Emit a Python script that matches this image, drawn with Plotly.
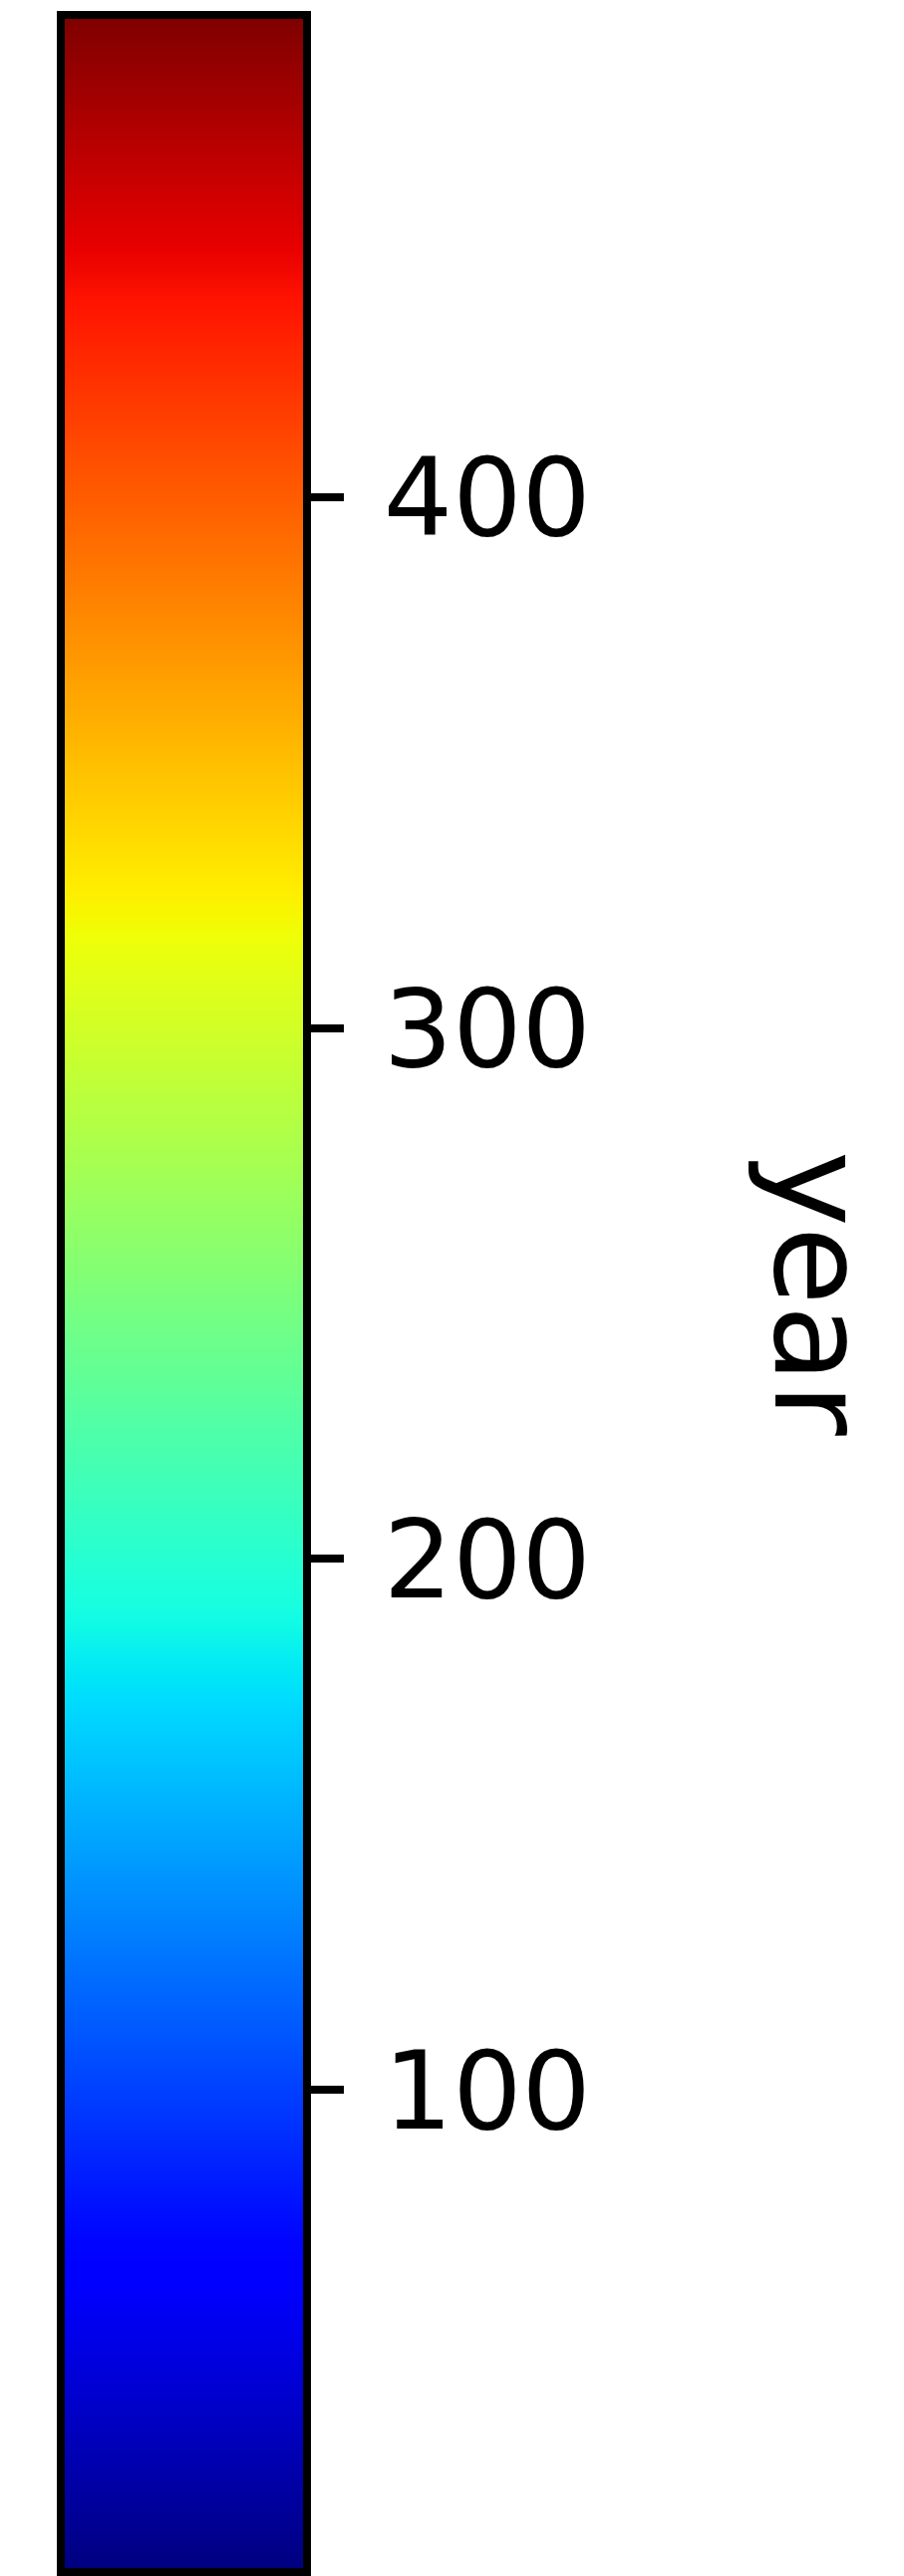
import plotly.graph_objects as go
import numpy as np

# Data
years = list(range(10, 491, 2))          # colour scale values (year)
tick_values = [100, 200, 300, 400]
tick_labels = ["100", "200", "300", "400"]
label_text = "year"

# matplotlib "jet" colormap as a plotly colorscale
def jet(v):
    def interp(pts, x):
        xs = [p[0] for p in pts]; ys = [p[1] for p in pts]
        return float(np.interp(x, xs, ys))
    r = interp([(0, 0), (0.35, 0), (0.66, 1), (0.89, 1), (1, 0.5)], v)
    g = interp([(0, 0), (0.125, 0), (0.375, 1), (0.64, 1), (0.91, 0), (1, 0)], v)
    b = interp([(0, 0.5), (0.11, 1), (0.34, 1), (0.65, 0), (1, 0)], v)
    return f"rgb({round(r*255)},{round(g*255)},{round(b*255)})"

stops = np.linspace(0, 1, 101)
colorscale = [[float(s), jet(s)] for s in stops]

z = [[y, y] for y in years]

fig = go.Figure(go.Heatmap(
    x=[0, 1], y=years, z=z,
    colorscale=colorscale, zmin=min(years), zmax=max(years),
    zsmooth="best", showscale=False, hoverinfo="skip",
))

# page has an 8px body margin; figure coordinates = page coordinates - 8
OFF = 8
W, H = 907 - 2 * OFF, 2585 - OFF
x0, x1 = 65 - OFF, 304 - OFF
y0, y1 = 19 - OFF, 2577 - OFF

fig.update_layout(
    width=W, height=H, autosize=False,
    margin=dict(l=0, r=0, t=0, b=0, autoexpand=False),
    paper_bgcolor="white", plot_bgcolor="white",
    xaxis=dict(domain=[x0 / W, x1 / W], range=[0, 1], showline=True, mirror=True,
               linecolor="black", linewidth=8, showticklabels=False, ticks="",
               showgrid=False, zeroline=False, fixedrange=True),
    yaxis=dict(domain=[1 - y1 / H, 1 - y0 / H], range=[min(years), max(years)],
               side="right", showline=True, mirror=True, linecolor="black", linewidth=8,
               ticks="outside", ticklen=33, tickwidth=8, tickcolor="black",
               tickvals=tick_values, ticktext=tick_labels,
               tickfont=dict(family="DejaVu Sans", size=109, color="black"),
               ticklabelstandoff=18,
               showgrid=False, zeroline=False, fixedrange=True),
    annotations=[dict(
        text=label_text, x=815 / W, y=1 - (1298 - OFF) / H, xref="paper", yref="paper",
        xanchor="center", yanchor="middle", textangle=90, showarrow=False,
        font=dict(family="DejaVu Sans", size=128, color="black"),
    )],
)

fig.write_html("out.html")
